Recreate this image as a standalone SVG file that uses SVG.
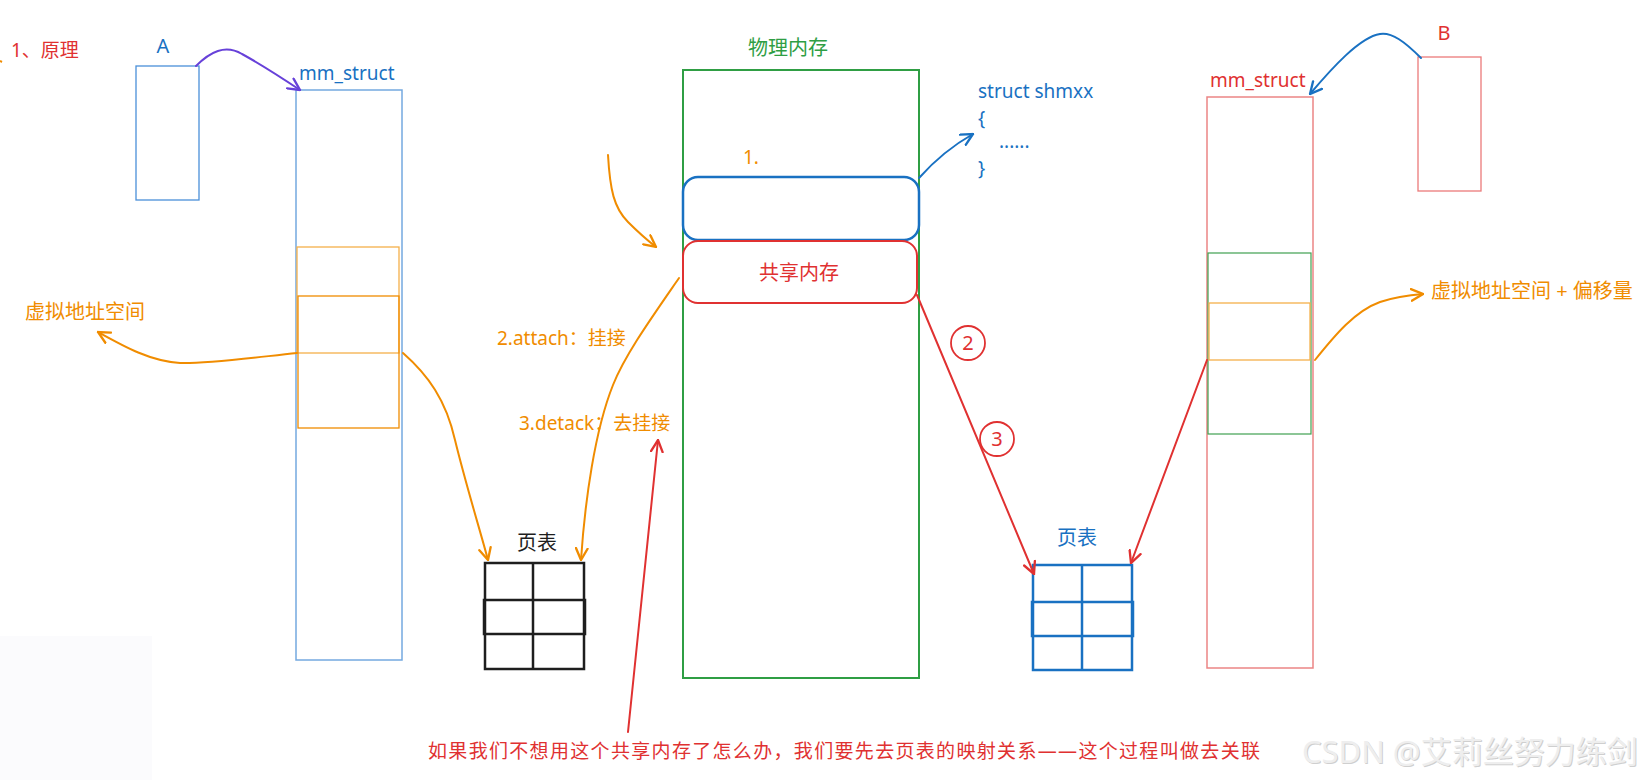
<svg xmlns="http://www.w3.org/2000/svg" width="1646" height="780" viewBox="0 0 1646 780">
<style>
text{font-family:"Noto Sans","Noto Sans CJK SC",sans-serif;}
.or{fill:#f08c00}.rd{fill:#e03131}.bl{fill:#1971c2}.gr{fill:#2f9e44}.bk{fill:#1e1e1e}
.f20{font-size:20px}.f19{font-size:19px}
.ln{fill:none;stroke-linecap:round;stroke-linejoin:round}
</style>
<defs>
<marker id="aO" viewBox="0 0 12 12" refX="11" refY="6" markerWidth="14" markerHeight="14" markerUnits="userSpaceOnUse" orient="auto"><path d="M1,1 L11,6 L1,11" fill="none" stroke="#f08c00" stroke-width="2" stroke-linecap="round"/></marker>
<marker id="aR" viewBox="0 0 12 12" refX="11" refY="6" markerWidth="14" markerHeight="14" markerUnits="userSpaceOnUse" orient="auto"><path d="M1,1 L11,6 L1,11" fill="none" stroke="#e03131" stroke-width="2" stroke-linecap="round"/></marker>
<marker id="aB" viewBox="0 0 12 12" refX="11" refY="6" markerWidth="14" markerHeight="14" markerUnits="userSpaceOnUse" orient="auto"><path d="M1,1 L11,6 L1,11" fill="none" stroke="#1971c2" stroke-width="2" stroke-linecap="round"/></marker>
<marker id="aP" viewBox="0 0 12 12" refX="11" refY="6" markerWidth="14" markerHeight="14" markerUnits="userSpaceOnUse" orient="auto"><path d="M1,1 L11,6 L1,11" fill="none" stroke="#6741d9" stroke-width="2" stroke-linecap="round"/></marker>
</defs>
<rect width="1646" height="780" fill="#ffffff"/>
<rect x="0" y="636" width="152" height="144" fill="#fbfbfd"/>
<text x="11" y="57" class="rd f19">1、原理</text>
<path d="M0,61 L2,62" stroke="#f08c00" stroke-width="2"/>

<g id="procA">
<text x="163" y="53" class="bl f20" text-anchor="middle">A</text>
<rect x="136" y="66" width="63" height="134" fill="none" stroke="#4a90d9" stroke-width="1.3"/>
</g>
<g id="mmA">
<text x="299" y="80" class="bl f19">mm_struct</text>
<rect x="296" y="90" width="106" height="570" fill="none" stroke="#74a9e0" stroke-width="1.5"/>
<rect x="297" y="247" width="102" height="106" fill="none" stroke="#f5b04a" stroke-width="1.3"/>
<rect x="298" y="296" width="101" height="132" fill="none" stroke="#f08c00" stroke-width="1.3"/>
</g>
<g id="vaddrA"><text x="25" y="319" class="or f20">虚拟地址空间</text></g>

<g id="pt1">
<text x="537" y="550" class="bk f20" text-anchor="middle">页表</text>
<g fill="none" stroke="#1e1e1e" stroke-width="2.5">
<rect x="485" y="563" width="99" height="106"/>
<rect x="484" y="600" width="101" height="34"/>
<line x1="533" y1="563" x2="533" y2="669"/>
</g>
</g>
<g id="labels-mid">
<text x="497" y="345" class="or f19">2.attach：挂接</text>
<text x="519" y="430" class="or f19">3.detack：去挂接</text>
</g>

<g id="phys">
<text x="788" y="55" class="gr f20" text-anchor="middle">物理内存</text>
<rect x="683" y="70" width="236" height="608" fill="none" stroke="#2f9e44" stroke-width="2"/>
<text x="743" y="164" class="or f19">1.</text>
</g>
<g id="shmStruct">
<rect x="683" y="177" width="236" height="63" rx="15" fill="none" stroke="#1971c2" stroke-width="2.5"/>
</g>
<g id="shm">
<rect x="683" y="241" width="234" height="62" rx="15" fill="none" stroke="#e03131" stroke-width="2"/>
<text x="799" y="280" class="rd f20" text-anchor="middle">共享内存</text>
</g>
<g id="structText" class="bl f19">
<text x="978" y="98">struct shmxx</text>
<text x="978" y="125">{</text>
<text x="999" y="148">......</text>
<text x="978" y="175">}</text>
</g>

<g id="procB">
<text x="1444" y="40" class="rd f20" text-anchor="middle">B</text>
<rect x="1418" y="57" width="63" height="134" fill="none" stroke="#eb7a7a" stroke-width="1.3"/>
</g>
<g id="mmB">
<text x="1210" y="87" class="rd f19">mm_struct</text>
<rect x="1207" y="97" width="106" height="571" fill="none" stroke="#eb8585" stroke-width="1.5"/>
<rect x="1208" y="253" width="103" height="181" fill="none" stroke="#40a050" stroke-width="1.2"/>
<rect x="1209" y="303" width="101" height="57" fill="none" stroke="#f5b04a" stroke-width="1.3"/>
</g>
<g id="vaddrB"><text x="1431" y="298" class="or f20">虚拟地址空间 + 偏移量</text></g>

<g id="pt2">
<text x="1077" y="545" class="bl f20" text-anchor="middle">页表</text>
<g fill="none" stroke="#1971c2" stroke-width="2.5">
<rect x="1033" y="565" width="99" height="105"/>
<rect x="1032" y="602" width="101" height="34"/>
<line x1="1082" y1="565" x2="1082" y2="670"/>
</g>
</g>

<g id="steps" fill="none" stroke="#e03131" stroke-width="1.8">
<circle cx="968" cy="343" r="17"/>
<circle cx="997" cy="439" r="17"/>
</g>
<text x="968" y="350" class="rd f20" text-anchor="middle">2</text>
<text x="997" y="446" class="rd f20" text-anchor="middle">3</text>

<g id="connectors" class="ln" stroke-width="2">
<path d="M196,66 C210,52 225,44 242,54 C262,65 282,78 300,90" stroke="#6741d9" marker-end="url(#aP)"/>
<path d="M1421,58 C1405,42 1392,32 1380,34 C1360,37 1332,68 1310,94" stroke="#1971c2" marker-end="url(#aB)"/>
<path d="M297,353 C250,358 205,364 180,363 C150,361 125,347 98,332" stroke="#f08c00" marker-end="url(#aO)"/>
<path d="M403,353 C428,375 446,400 455,440 C466,485 480,530 488,560" stroke="#f08c00" marker-end="url(#aO)"/>
<path d="M608,155 C610,190 614,208 628,222 C638,232 647,240 656,247" stroke="#f08c00" marker-end="url(#aO)"/>
<path d="M679,278 C650,320 625,355 613,385 C595,430 585,500 581,560" stroke="#f08c00" marker-end="url(#aO)"/>
<path d="M919,178 C935,160 950,147 973,134" stroke="#1971c2" marker-end="url(#aB)"/>
<path d="M917,295 L1034,574" stroke="#e03131" marker-end="url(#aR)"/>
<path d="M1207,360 L1131,563" stroke="#e03131" marker-end="url(#aR)"/>
<path d="M628,732 L658,440" stroke="#e03131" marker-end="url(#aR)"/>
<path d="M1315,360 C1335,335 1355,311 1380,302 C1395,297 1410,295 1423,294" stroke="#f08c00" marker-end="url(#aO)"/>
</g>

<text x="428" y="758" class="rd" font-size="19" textLength="832">如果我们不想用这个共享内存了怎么办，我们要先去页表的映射关系——这个过程叫做去关联</text>
<g id="watermark" font-size="31" font-family="'Liberation Sans','Noto Sans CJK SC',sans-serif">
<text x="1303" y="764" fill="#cfcfcf">CSDN @艾莉丝努力练剑</text>
<text x="1302" y="763" fill="#eeeeee">CSDN @艾莉丝努力练剑</text>
</g>
</svg>
